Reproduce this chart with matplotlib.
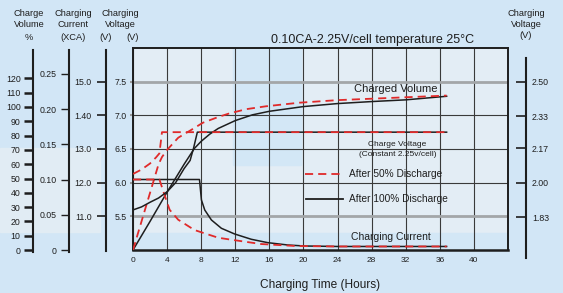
import matplotlib
matplotlib.use('Agg')
import matplotlib.pyplot as plt
from matplotlib.patches import Rectangle

plt.rcParams['font.family'] = ['Liberation Sans', 'DejaVu Sans']

# ---- data ----
# charged volume (%)
vol_50_t = [0, 1, 2, 3, 3.4, 4, 5.3, 6.7, 8.2, 10, 11.3, 13.3, 15.6, 19.5, 24, 28, 32, 36.8]
vol_50 = [0, 20, 40, 60, 65, 70, 78.5, 83.5, 89, 93, 95.5, 98.5, 100.5, 103, 104.8, 105.8, 106.8, 108]
vol_100_t = [0, 2, 4, 6, 7.2, 8, 9, 10, 12, 14, 16, 20, 24, 28, 32, 36.8]
vol_100 = [0, 20, 40.5, 60, 71, 76, 81, 85, 90.5, 94.5, 97, 100.3, 102.4, 103.8, 105, 107.5]

# charge voltage (V per cell)
volt_50_t = [0, 1, 2, 2.7, 3.1, 3.4, 36.8]
volt_50 = [2.043, 2.065, 2.095, 2.125, 2.145, 2.25, 2.25]
volt_100_t = [0, 1, 2, 3, 4, 5, 6, 6.7, 7.1, 7.55, 36.8]
volt_100 = [1.865, 1.88, 1.903, 1.924, 1.955, 2.0, 2.07, 2.11, 2.17, 2.25, 2.25]

# charging current (xCA)
cur_50_t = [0, 3.1, 3.7, 4.3, 5.3, 7.2, 7.8, 10, 11.2, 15, 19, 24, 30, 36.8]
cur_50 = [0.1, 0.1, 0.078, 0.057, 0.043, 0.0284, 0.026, 0.0174, 0.0152, 0.0085, 0.0057, 0.005, 0.005, 0.005]
cur_100_t = [0, 7.8, 8.03, 8.42, 9.2, 10.37, 11.93, 13.88, 15.82, 18.16, 20.1, 24, 30, 36.8]
cur_100 = [0.1, 0.1, 0.0709, 0.0567, 0.0426, 0.0308, 0.0227, 0.0152, 0.0104, 0.0071, 0.0057, 0.005, 0.005, 0.005]

hours = [0, 4, 8, 12, 16, 20, 24, 28, 32, 36, 40]
vol_ticks = [0, 10, 20, 30, 40, 50, 60, 70, 80, 90, 100, 110, 120]
cur_ticks = [0, 0.05, 0.10, 0.15, 0.20, 0.25]
cur_labels = ['0', '0.05', '0.10', '0.15', '0.20', '0.25']
v12_ticks = [11, 12, 13, 14, 15]
v12_labels = ['11.0', '12.0', '13.0', '1.40', '15.0']
v6_ticks = [5.5, 6.0, 6.5, 7.0, 7.5]
cell_ticks = [1.83, 2.00, 2.17, 2.33, 2.50]

RED = '#e02a2a'
INK = '#1e1e1e'
W, H = 563, 293
fig = plt.figure(figsize=(W / 100, H / 100), dpi=100, facecolor='#d2e6f6')


def box(x0, y0, x1, y1):
    return [x0 / W, 1 - y1 / H, (x1 - x0) / W, (y1 - y0) / H]


# background watermark-ish tones
fig.patches.append(Rectangle((0, 1 - 232 / H), 100 / W, 84 / H, transform=fig.transFigure,
                             color='#e1ecf4', zorder=-5))

ax = fig.add_axes(box(133, 48, 508, 250))
ax.set_facecolor('#e3edf5')
ax.add_patch(Rectangle((0.267, 0.42), 0.18, 0.58, transform=ax.transAxes, color='#d3e7f6', zorder=-2))
ax.add_patch(Rectangle((0, 0), 1, 17 / 202, transform=ax.transAxes, color='#d3e7f6', zorder=-2))
ax.set_xlim(0, 44)
ax.set_ylim(5.0, 8.0)
ax.set_xticks(hours)
ax.set_xticklabels([str(h) for h in hours], fontsize=6, color=INK)
ax.set_yticks(v6_ticks)
ax.set_yticklabels([f'{v:.1f}' for v in v6_ticks], fontsize=6.3, color=INK)
ax.tick_params(axis='x', length=0, pad=5)
ax.tick_params(axis='y', length=2.2, width=1.5, pad=2, color='#999999')
ax.grid(True, color='#3a3a3a', linewidth=0.8)
ylines = ax.get_ygridlines()
for i in (0, len(ylines) - 1):
    ylines[i].set_color('#a3a6a8')
    ylines[i].set_linewidth(2.0)
ax.set_axisbelow(True)
for s in ax.spines.values():
    s.set_color(INK)
    s.set_linewidth(1.4)
ax.spines['bottom'].set_linewidth(1.8)
ax.set_xlabel('Charging Time (Hours)', fontsize=8.6, color=INK, labelpad=11)

# twin scales sharing the plot box
ax_vol = ax.twinx()
ax_vol.set_ylim(0, 202 / 1.43)
ax_cur = ax.twinx()
ax_cur.set_ylim(0, 202 / 705)
ax_cell = ax.twinx()
ax_cell.set_ylim(5 / 3, 8 / 3)
for a in (ax_vol, ax_cur, ax_cell):
    a.axis('off')

dash = dict(color=RED, linewidth=1.3, dashes=(4.5, 2.8))
solid = dict(color=INK, linewidth=1.1)
ax_vol.plot(vol_100_t, vol_100, **solid)
ax_cell.plot(volt_100_t, volt_100, **solid)
ax_cur.plot(cur_100_t, cur_100, **solid)
ax_vol.plot(vol_50_t, vol_50, **dash)
ax_cell.plot(volt_50_t, volt_50, **dash)
ax_cur.plot(cur_50_t, cur_50, **dash)

# labels inside plot
tr = ax.transAxes
ax.text(0.701, 0.797, 'Charged Volume', transform=tr, ha='center', va='center', fontsize=8, color=INK)
ax.text(0.705, 0.522, 'Charge Voltage', transform=tr, ha='center', va='center', fontsize=6, color=INK)
ax.text(0.705, 0.472, '(Constant 2.25v/cell)', transform=tr, ha='center', va='center', fontsize=6, color=INK)
ax.plot([0.459, 0.56], [0.376, 0.376], transform=tr, **dash)
ax.text(0.577, 0.376, 'After 50% Discharge', transform=tr, ha='left', va='center', fontsize=7.3, color=INK)
ax.plot([0.461, 0.56], [0.252, 0.252], transform=tr, color=INK, linewidth=1.3)
ax.text(0.577, 0.252, 'After 100% Discharge', transform=tr, ha='left', va='center', fontsize=7.3, color=INK)
ax.text(0.688, 0.066, 'Charging Current', transform=tr, ha='center', va='center', fontsize=7.5, color=INK)


# extra stand-alone axis scales
def scale_axis(x, y0, y1, lo, hi, ticks, labels, side, tlen, twid, pad, direction='out'):
    a = fig.add_axes(box(x, y0, x + 1, y1))
    a.patch.set_alpha(0)
    for k in ('top', 'bottom', 'left', 'right'):
        a.spines[k].set_visible(False)
    sp = a.spines[side]
    sp.set_visible(True)
    sp.set_position(('axes', 0))
    sp.set_linewidth(1.5)
    sp.set_color(INK)
    a.set_xticks([])
    a.set_ylim(lo, hi)
    if side == 'right':
        a.yaxis.tick_right()
    a.set_yticks(ticks)
    a.set_yticklabels(labels)
    a.tick_params(axis='y', length=tlen, width=twid, pad=pad, direction=direction,
                  color=INK, labelsize=6.3, labelcolor=INK)
    return a


scale_axis(33, 50, 252, -2 / 1.43, 200 / 1.43, vol_ticks, [str(v) for v in vol_ticks],
           'left', 6.5, 1.8, 2.4)
scale_axis(69, 50, 252, -2 / 705, 200 / 705, cur_ticks, cur_labels, 'left', 5.5, 1.0, 3.2)
scale_axis(106, 50, 251, 10 - 1 / 33.67, 10 + 200 / 33.67, v12_ticks, v12_labels, 'left', 6.7, 1.2, 3.6)
scale_axis(526, 58, 258, 5 / 3 - 8 / 202, 5 / 3 + 192 / 202, cell_ticks,
           [f'{v:.2f}' for v in cell_ticks], 'right', 7, 1.2, 4.3, direction='in')

# headers
hdr = dict(ha='center', va='center', fontsize=6.7, color=INK, linespacing=1.15)
fig.text(29 / W, 1 - 19 / H, 'Charge\nVolume', **hdr)
fig.text(29 / W, 1 - 37 / H, '%', **hdr)
fig.text(73 / W, 1 - 19 / H, 'Charging\nCurrent', **hdr)
fig.text(73 / W, 1 - 37 / H, '(XCA)', **hdr)
fig.text(120 / W, 1 - 19 / H, 'Charging\nVoltage', **hdr)
fig.text(106 / W, 1 - 37 / H, '(V)', **hdr)
fig.text(133 / W, 1 - 37 / H, '(V)', **hdr)
fig.text(526 / W, 1 - 19 / H, 'Charging\nVoltage', **hdr)
fig.text(526 / W, 1 - 36 / H, '(V)', **hdr)
fig.text(372.5 / W, 1 - 40 / H, '0.10CA-2.25V/cell temperature 25°C', ha='center', va='center',
         fontsize=9, color=INK)

fig.savefig('out.png', dpi=100, facecolor=fig.get_facecolor())
